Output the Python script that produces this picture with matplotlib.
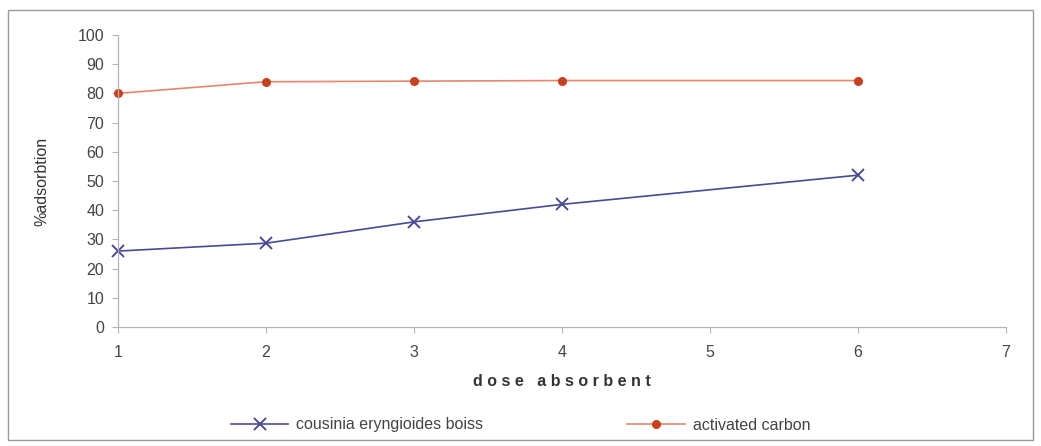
import matplotlib
matplotlib.use("Agg")
import matplotlib.pyplot as plt
from matplotlib.patches import Rectangle
from matplotlib.lines import Line2D

plt.rcParams['font.family'] = ['Liberation Sans', 'DejaVu Sans']

dose = [1, 2, 3, 4, 6]
cousinia = [26, 28.7, 36, 42, 52]
carbon = [80, 84, 84.2, 84.4, 84.4]
xticks = [1, 2, 3, 4, 5, 6, 7]
yticks = list(range(0, 101, 10))

fig = plt.figure(figsize=(10.41, 4.46), dpi=100)
fig.patches.append(Rectangle((8 / 1041, 6 / 446), 1025 / 1041, 430 / 446,
                             transform=fig.transFigure, fill=False,
                             edgecolor='#9a9a9a', lw=1.0))

ax = fig.add_axes([118 / 1041, 1 - 327 / 446, 888 / 1041, 292 / 446])
ax.plot(dose, cousinia, color='#4a4a96', lw=1.2, marker='x', ms=8, mew=1.4,
        clip_on=False, label='cousinia eryngioides boiss')
ax.plot(dose, carbon, color='#e8876a', lw=1.2, marker='o', ms=5.5,
        mfc='#c8401e', mec='#c8401e', clip_on=False, label='activated carbon')

ax.set_xlim(1, 7)
ax.set_ylim(0, 100)
ax.set_xticks(xticks)
ax.set_yticks(yticks)
for s in ['top', 'right']:
    ax.spines[s].set_visible(False)
for s in ['left', 'bottom']:
    ax.spines[s].set_color('#b5b5b5')
    ax.spines[s].set_linewidth(0.9)
ax.tick_params(colors='#b5b5b5', labelcolor='#444444', labelsize=11.5,
               length=4, width=0.8)
ax.tick_params(axis='x', pad=9)
ax.tick_params(axis='y', pad=6)
ax.set_xlabel('d o s e   a b s o r b e n t', fontsize=11.5, fontweight='bold',
              color='#333333', labelpad=10)
ax.set_ylabel('%adsorbtion', fontsize=11.5, color='#333333', labelpad=20)

h1 = Line2D([], [], color='#4a4a96', lw=1.2, marker='x', ms=8, mew=1.4)
h2 = Line2D([], [], color='#e8876a', lw=1.2, marker='o', ms=5.5,
            mfc='#c8401e', mec='#c8401e')
fig.legend([h1, h2], ['cousinia eryngioides boiss', 'activated carbon'],
           loc='center', bbox_to_anchor=(0.5, 1 - 425 / 446), ncol=2,
           frameon=False, fontsize=11.5, handlelength=3.6, handletextpad=0.5,
           columnspacing=9, labelcolor='#444444')

fig.savefig('out.png', dpi=100)
